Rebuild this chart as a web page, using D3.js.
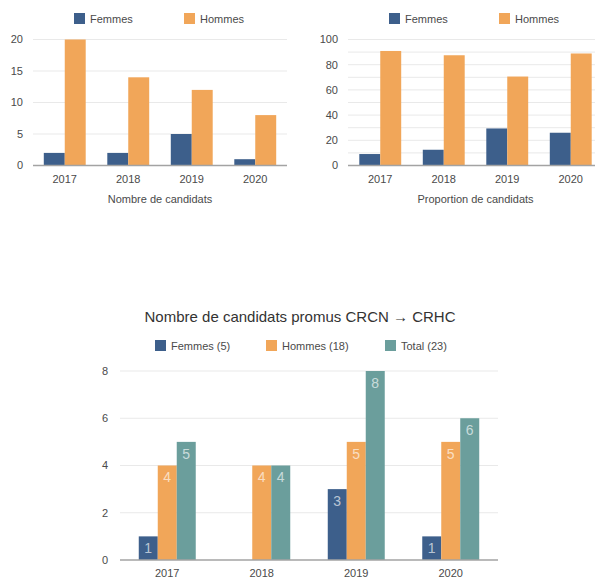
<!DOCTYPE html>
<html>
<head>
<meta charset="utf-8">
<script src="https://cdn.jsdelivr.net/npm/d3@7"></script>
<style>
  html, body { margin: 0; padding: 0; background: #fff; }
  svg { display: block; }
  text { font-family: "Liberation Sans", Arial, Helvetica, sans-serif; fill: #4a4a4a; }
</style>
</head>
<body>
<svg id="chart" width="595" height="579"></svg>
<script>
// Years shared by all three panels
const years = ["2017", "2018", "2019", "2020"];

// Panel 1: number of candidates
const countFemmes = [2, 2, 5, 1];
const countHommes = [20, 14, 12, 8];
const countTicks = [0, 5, 10, 15, 20];

// Panel 2: proportion of candidates (%)
const propFemmes = [9.1, 12.5, 29.4, 26];
const propHommes = [90.9, 87.5, 70.6, 88.9];
const propTicks = [0, 20, 40, 60, 80, 100];
const propMinorTicks = [10, 30, 50, 70, 90];

// Panel 3: promoted candidates CRCN -> CRHC
const promusFemmes = [1, 0, 3, 1];
const promusHommes = [4, 4, 5, 5];
const promusTotal = [5, 4, 8, 6];
const promusTicks = [0, 2, 4, 6, 8];

const seriesNames2 = ["Femmes", "Hommes"];
const seriesNames3 = ["Femmes (5)", "Hommes (18)", "Total (23)"];

const BLUE = "#3d5f8b", ORANGE = "#f1a659", TEAL = "#6b9e9c";
const GRID = "#e9e9e9", AXIS = "#a3a3a3";

const svg = d3.select("#chart");

function legend(g, items, colors, xs, y) {
  items.forEach((name, i) => {
    g.append("rect").attr("x", xs[i]).attr("y", y - 6).attr("width", 11).attr("height", 11)
      .attr("fill", colors[i]);
    g.append("text").attr("x", xs[i] + 16).attr("y", y).attr("dy", "0.35em")
      .attr("font-size", 11).text(name);
  });
}

function barPanel(opts) {
  const g = svg.append("g");
  const x = d3.scaleBand().domain(years).range(opts.xRange)
    .paddingInner(opts.padding).paddingOuter(opts.padding / 2);
  const y = d3.scaleLinear().domain(opts.yDomain).range(opts.yRange);
  const xs = d3.scaleBand().domain(d3.range(opts.series.length)).range([0, x.bandwidth()]);

  // grid lines
  const gridVals = opts.ticks.filter(t => t !== 0).concat(opts.minor || []);
  g.selectAll("line.grid").data(gridVals).join("line")
    .attr("x1", opts.gridRange[0]).attr("x2", opts.gridRange[1])
    .attr("y1", d => y(d)).attr("y2", d => y(d))
    .attr("stroke", GRID).attr("stroke-width", 1);

  // y tick labels
  g.selectAll("text.ytick").data(opts.ticks).join("text")
    .attr("x", opts.yLabelX).attr("y", d => y(d)).attr("dy", "0.35em")
    .attr("text-anchor", "end").attr("font-size", 11).text(d => d);

  // bars
  opts.series.forEach((vals, si) => {
    const bars = g.append("g");
    const pts = vals.map((v, i) => ({ year: years[i], value: v }));
    bars.selectAll("rect").data(pts).join("rect")
      .attr("x", d => x(d.year) + xs(si))
      .attr("y", d => y(d.value))
      .attr("width", xs.bandwidth())
      .attr("height", d => y(0) - y(d.value))
      .attr("fill", opts.colors[si]);
    if (opts.valueLabels) {
      bars.selectAll("text").data(pts.filter(d => d.value > 0)).join("text")
        .attr("x", d => x(d.year) + xs(si) + xs.bandwidth() / 2)
        .attr("y", d => y(d.value) + 12).attr("dy", "0.35em")
        .attr("text-anchor", "middle").attr("font-size", 14)
        .style("fill", "#ffffff").style("fill-opacity", 0.65)
        .text(d => d.value);
    }
  });

  // baseline
  g.append("line")
    .attr("x1", opts.gridRange[0]).attr("x2", opts.gridRange[1])
    .attr("y1", y(0)).attr("y2", y(0))
    .attr("stroke", AXIS).attr("stroke-width", 1.5);

  // x tick labels
  g.selectAll("text.xtick").data(years).join("text")
    .attr("x", d => x(d) + x.bandwidth() / 2).attr("y", opts.xLabelY).attr("dy", "0.35em")
    .attr("text-anchor", "middle").attr("font-size", 11).text(d => d);

  if (opts.caption) {
    g.append("text")
      .attr("x", (opts.xRange[0] + opts.xRange[1]) / 2).attr("y", opts.xLabelY + 20).attr("dy", "0.35em")
      .attr("text-anchor", "middle").attr("font-size", 11).text(opts.caption);
  }
  return g;
}

// Panel 1
const p1 = barPanel({
  xRange: [33, 287], gridRange: [33, 287], padding: 0.34,
  yDomain: [0, 20], yRange: [165.5, 39.5], ticks: countTicks,
  yLabelX: 23, xLabelY: 179,
  series: [countFemmes, countHommes], colors: [BLUE, ORANGE],
  caption: "Nombre de candidats"
});
legend(p1, seriesNames2, [BLUE, ORANGE], [74, 184], 19);

// Panel 2
const p2 = barPanel({
  xRange: [348.5, 602.5], gridRange: [348, 595], padding: 0.34,
  yDomain: [0, 100], yRange: [165.5, 39.5], ticks: propTicks, minor: propMinorTicks,
  yLabelX: 338, xLabelY: 179,
  series: [propFemmes, propHommes], colors: [BLUE, ORANGE],
  caption: "Proportion de candidats"
});
legend(p2, seriesNames2, [BLUE, ORANGE], [389, 499], 19);

// Panel 3
const p3 = barPanel({
  xRange: [120, 498], gridRange: [120, 498], padding: 0.397,
  yDomain: [0, 8], yRange: [560, 371], ticks: promusTicks,
  yLabelX: 108, xLabelY: 573,
  series: [promusFemmes, promusHommes, promusTotal], colors: [BLUE, ORANGE, TEAL],
  valueLabels: true
});
legend(p3, seriesNames3, [BLUE, ORANGE, TEAL], [155, 266, 385], 346);
p3.append("text").attr("x", 300).attr("y", 317).attr("dy", "0.35em")
  .attr("text-anchor", "middle").attr("font-size", 15).style("fill", "#333")
  .text("Nombre de candidats promus CRCN \u2192 CRHC");
</script>
</body>
</html>
